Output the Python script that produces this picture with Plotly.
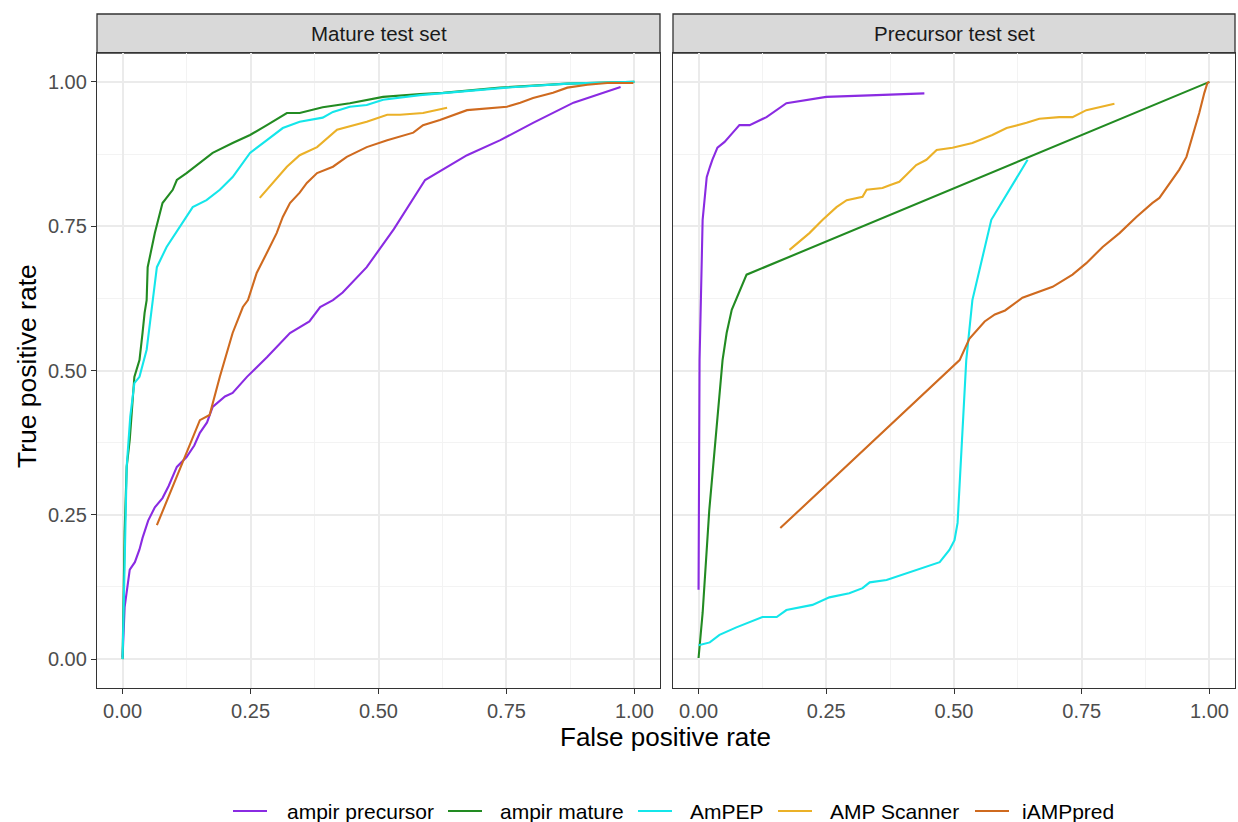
import plotly.graph_objects as go

W, H = 1238, 822

series_names = ["ampir precursor", "ampir mature", "AmPEP", "AMP Scanner", "iAMPpred"]
series_colors = ["#8A2BE2", "#228B22", "#14E6EA", "#EBB128", "#CF6A1F"]
panel_titles = ["Mature test set", "Precursor test set"]
tick_vals = [0, 0.25, 0.5, 0.75, 1.0]
tick_text = ["0.00", "0.25", "0.50", "0.75", "1.00"]

# ---- Mature test set ----
m_prec_x = [0, 0.004, 0.014, 0.024, 0.033, 0.039, 0.05, 0.063, 0.078, 0.09, 0.106, 0.125, 0.14, 0.151,
            0.165, 0.176, 0.2, 0.215, 0.243, 0.282, 0.327, 0.352, 0.365, 0.386, 0.411, 0.43, 0.477,
            0.53, 0.581, 0.591, 0.673, 0.738, 0.802, 0.881, 0.973]
m_prec_y = [0.003, 0.09, 0.155, 0.168, 0.19, 0.21, 0.24, 0.263, 0.279, 0.30, 0.333, 0.35, 0.37, 0.392,
            0.41, 0.437, 0.455, 0.461, 0.489, 0.523, 0.565, 0.579, 0.585, 0.610, 0.622, 0.635, 0.679,
            0.745, 0.815, 0.830, 0.873, 0.899, 0.929, 0.964, 0.991]

m_mat_x = [0, 0.002, 0.004, 0.008, 0.014, 0.023, 0.033, 0.039, 0.043, 0.047, 0.049, 0.063, 0.078, 0.098,
           0.106, 0.125, 0.151, 0.176, 0.215, 0.249, 0.282, 0.321, 0.346, 0.391, 0.444, 0.509, 0.581,
           0.626, 0.738, 0.869, 1.0]
m_mat_y = [0, 0.12, 0.22, 0.333, 0.38, 0.489, 0.518, 0.565, 0.60, 0.622, 0.679, 0.738, 0.790, 0.813,
           0.830, 0.842, 0.860, 0.877, 0.894, 0.908, 0.925, 0.946, 0.946, 0.956, 0.963, 0.974, 0.979,
           0.981, 0.990, 0.997, 1.0]

m_amp_x = [0, 0.004, 0.008, 0.015, 0.023, 0.033, 0.047, 0.059, 0.067, 0.086, 0.112, 0.137, 0.164, 0.190,
           0.215, 0.249, 0.282, 0.313, 0.346, 0.391, 0.411, 0.444, 0.477, 0.509, 0.581, 0.65, 0.75,
           0.87, 1.0]
m_amp_y = [0, 0.2, 0.333, 0.42, 0.478, 0.489, 0.536, 0.622, 0.679, 0.714, 0.749, 0.783, 0.795, 0.813,
           0.835, 0.877, 0.899, 0.920, 0.931, 0.938, 0.948, 0.957, 0.960, 0.969, 0.977, 0.982, 0.99,
           0.997, 1.0]

m_scan_x = [0.268, 0.294, 0.321, 0.346, 0.380, 0.419, 0.450, 0.477, 0.517, 0.542, 0.587, 0.634]
m_scan_y = [0.799, 0.825, 0.853, 0.873, 0.887, 0.917, 0.925, 0.931, 0.943, 0.943, 0.946, 0.955]

m_iamp_x = [0.067, 0.098, 0.125, 0.151, 0.170, 0.190, 0.215, 0.235, 0.245, 0.262, 0.282, 0.301, 0.313,
            0.327, 0.346, 0.360, 0.380, 0.411, 0.438, 0.477, 0.517, 0.542, 0.568, 0.587, 0.620, 0.673,
            0.751, 0.777, 0.802, 0.841, 0.869, 0.908, 0.947, 0.998]
m_iamp_y = [0.232, 0.298, 0.357, 0.414, 0.423, 0.489, 0.565, 0.610, 0.622, 0.669, 0.704, 0.738, 0.766,
            0.790, 0.808, 0.825, 0.842, 0.853, 0.870, 0.887, 0.899, 0.905, 0.912, 0.925, 0.934, 0.951,
            0.957, 0.964, 0.972, 0.981, 0.990, 0.995, 0.998, 0.998]

# ---- Precursor test set ----
p_prec_x = [0, 0.001, 0.002, 0.008, 0.016, 0.022, 0.027, 0.037, 0.051, 0.067, 0.080, 0.100, 0.133,
            0.172, 0.250, 0.348, 0.442]
p_prec_y = [0.12, 0.30, 0.518, 0.761, 0.835, 0.852, 0.865, 0.886, 0.896, 0.912, 0.925, 0.925, 0.939,
            0.963, 0.974, 0.977, 0.980]

p_mat_x = [0, 0.008, 0.021, 0.031, 0.041, 0.047, 0.055, 0.065, 0.094, 1.0]
p_mat_y = [0.002, 0.08, 0.258, 0.362, 0.461, 0.518, 0.565, 0.605, 0.666, 1.0]

p_amp_x = [0, 0.022, 0.041, 0.074, 0.125, 0.153, 0.172, 0.223, 0.256, 0.295, 0.321, 0.335, 0.368,
           0.399, 0.432, 0.472, 0.491, 0.501, 0.507, 0.511, 0.517, 0.524, 0.536, 0.573, 0.644]
p_amp_y = [0.024, 0.029, 0.042, 0.055, 0.073, 0.073, 0.085, 0.094, 0.107, 0.114, 0.123, 0.133, 0.137,
           0.146, 0.156, 0.168, 0.189, 0.206, 0.236, 0.298, 0.402, 0.518, 0.622, 0.761, 0.865]

p_scan_x = [0.178, 0.217, 0.243, 0.270, 0.290, 0.309, 0.321, 0.329, 0.360, 0.374, 0.393, 0.407, 0.426,
            0.446, 0.452, 0.466, 0.497, 0.536, 0.575, 0.603, 0.642, 0.667, 0.706, 0.732, 0.759, 0.814]
p_scan_y = [0.709, 0.738, 0.761, 0.783, 0.795, 0.799, 0.801, 0.813, 0.816, 0.821, 0.827, 0.839, 0.856,
            0.865, 0.870, 0.882, 0.886, 0.894, 0.908, 0.920, 0.929, 0.936, 0.939, 0.939, 0.951, 0.962]

p_iamp_x = [0.160, 0.511, 0.53, 0.56, 0.58, 0.60, 0.634, 0.693, 0.732, 0.759, 0.791, 0.824, 0.857,
            0.888, 0.902, 0.922, 0.941, 0.955, 0.967, 0.980, 0.990, 0.996, 1.0]
p_iamp_y = [0.227, 0.518, 0.555, 0.585, 0.597, 0.604, 0.626, 0.645, 0.666, 0.686, 0.714, 0.738, 0.766,
            0.790, 0.799, 0.825, 0.848, 0.870, 0.905, 0.946, 0.981, 0.998, 1.0]

mature = [(m_prec_x, m_prec_y), (m_mat_x, m_mat_y), (m_amp_x, m_amp_y), (m_scan_x, m_scan_y), (m_iamp_x, m_iamp_y)]
precursor = [(p_prec_x, p_prec_y), (p_mat_x, p_mat_y), (p_amp_x, p_amp_y), (p_scan_x, p_scan_y), (p_iamp_x, p_iamp_y)]

FONT = "Liberation Sans, Arial, Helvetica, sans-serif"
LW = 2.1

fig = go.Figure()
for i, (name, col) in enumerate(zip(series_names, series_colors)):
    fig.add_trace(go.Scatter(x=mature[i][0], y=mature[i][1], mode="lines", name=name,
                             line=dict(color=col, width=LW), showlegend=False,
                             xaxis="x", yaxis="y"))
for i, (name, col) in enumerate(zip(series_names, series_colors)):
    fig.add_trace(go.Scatter(x=precursor[i][0], y=precursor[i][1], mode="lines", name=name,
                             line=dict(color=col, width=LW), showlegend=False,
                             xaxis="x2", yaxis="y2"))

# pixel geometry (layout only)
pL = (97, 660)
pR = (673, 1235)
top_px, bot_px = 53, 688
strip_top = 14

def fx(px):
    return px / W

def fy(py):
    return 1 - py / H

minor_vals = [0.125, 0.375, 0.625, 0.875]
common_axis = dict(range=[-0.05, 1.05], showgrid=True, gridcolor="#EBEBEB", gridwidth=1.5,
                   zeroline=False, showline=True, linecolor="#333333", linewidth=1.3, mirror=True,
                   tickvals=tick_vals, ticktext=tick_text, ticks="outside", ticklen=5,
                   tickcolor="#333333", tickwidth=1.3,
                   tickfont=dict(family=FONT, size=20, color="#4D4D4D"),
                   minor=dict(tickvals=minor_vals, showgrid=True, gridcolor="#F3F3F3", gridwidth=0.8,
                              ticks=""),
                   fixedrange=True, automargin=False)

fig.update_layout(
    width=W, height=H,
    margin=dict(l=0, r=0, t=0, b=0),
    paper_bgcolor="white", plot_bgcolor="white",
    font=dict(family=FONT, color="#000000"),
    xaxis=dict(common_axis, domain=[fx(pL[0]), fx(pL[1])], anchor="y"),
    yaxis=dict(common_axis, domain=[fy(bot_px), fy(top_px)], anchor="x"),
    xaxis2=dict(common_axis, domain=[fx(pR[0]), fx(pR[1])], anchor="y2"),
    yaxis2=dict(common_axis, domain=[fy(bot_px), fy(top_px)], anchor="x2",
                showticklabels=False, ticks=""),
    showlegend=False,
)

shapes = []
annotations = []
for (x0, x1), title in zip([pL, pR], panel_titles):
    shapes.append(dict(type="rect", xref="paper", yref="paper",
                       x0=fx(x0), x1=fx(x1), y0=fy(top_px), y1=fy(strip_top),
                       fillcolor="#D9D9D9", line=dict(color="#333333", width=1.3), layer="below"))
    annotations.append(dict(text=title, xref="paper", yref="paper", x=fx((x0 + x1) / 2),
                            y=fy((top_px + strip_top) / 2), xanchor="center", yanchor="middle",
                            showarrow=False, font=dict(family=FONT, size=20.5, color="#1A1A1A")))

annotations.append(dict(text="False positive rate", xref="paper", yref="paper", x=fx(666), y=fy(737),
                        xanchor="center", yanchor="middle", showarrow=False,
                        font=dict(family=FONT, size=26, color="#000000")))
annotations.append(dict(text="True positive rate", xref="paper", yref="paper", x=fx(27), y=fy(366),
                        xanchor="center", yanchor="middle", showarrow=False, textangle=-90,
                        font=dict(family=FONT, size=26.5, color="#000000")))

# legend (drawn as keys + labels)
legend_key_px = [233, 448, 638, 778, 975]
legend_text_px = [285, 498, 688, 828, 1020]
legend_y_px = 811
for name, col, kx, tx in zip(series_names, series_colors, legend_key_px, legend_text_px):
    shapes.append(dict(type="line", xref="paper", yref="paper", x0=fx(kx), x1=fx(kx + 34),
                       y0=fy(legend_y_px), y1=fy(legend_y_px), line=dict(color=col, width=LW)))
    annotations.append(dict(text=name, xref="paper", yref="paper", x=fx(tx), y=fy(legend_y_px),
                            xanchor="left", yanchor="middle", showarrow=False,
                            font=dict(family=FONT, size=21, color="#000000")))

fig.update_layout(shapes=shapes, annotations=annotations)

fig.write_html("out.html")
